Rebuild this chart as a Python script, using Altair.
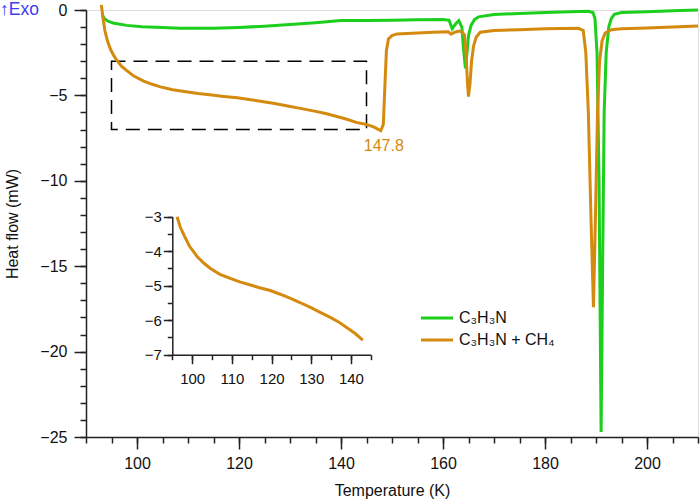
import altair as alt
import pandas as pd

# DSC traces: temperature (K) and heat flow (mW)
t_pure = [93.2, 93.6, 94.3, 95.5, 98.0, 101.0, 105.0, 108.5, 115.0, 120.0, 125.0,
          130.0, 135.0, 140.0, 145.0, 150.0, 155.0, 160.0, 161.2, 161.8, 162.5,
          163.1, 163.7, 164.0, 164.4, 164.7, 165.0, 165.5, 166.2, 167.0, 170.0,
          175.0, 180.0, 185.0, 188.5, 189.4, 189.8, 190.2, 190.6, 191.0, 191.3,
          191.6, 192.0, 192.5, 193.0, 193.6, 195.0, 200.0, 205.0, 210.0]
hf_pure = [-0.30, -0.50, -0.65, -0.78, -0.90, -0.98, -1.03, -1.07, -1.07, -1.02, -0.95,
           -0.85, -0.74, -0.62, -0.62, -0.60, -0.57, -0.55, -0.60, -1.10, -0.80,
           -0.62, -1.00, -2.20, -3.42, -2.50, -1.50, -0.90, -0.55, -0.40, -0.27,
           -0.20, -0.15, -0.10, -0.08, -0.15, -0.50, -2.50, -10.0, -24.7, -15.0,
           -6.0, -2.5, -1.0, -0.5, -0.25, -0.15, -0.10, -0.05, 0.0]

t_mix = [93.0, 93.4, 93.7, 94.2, 94.8, 95.5, 96.2, 97.0, 98.0, 99.3, 101.3, 103.0,
         104.6, 107.0, 109.6, 112.0, 114.7, 117.0, 119.7, 122.0, 124.8, 127.0,
         129.8, 132.0, 134.8, 137.0, 139.0, 141.0, 142.4, 143.0, 145.0, 146.5, 147.8,
         148.3, 148.6, 148.9, 149.3, 150.0, 151.0, 155.0, 158.0, 161.0, 161.6,
         162.3, 163.0, 163.5, 164.2, 164.5, 164.8, 165.0, 165.3, 165.6, 166.0,
         166.5, 167.3, 170.0, 175.0, 180.0, 186.5, 187.5, 188.0, 188.5, 189.0,
         189.5, 189.9, 190.3, 190.7, 191.2, 191.8, 193.0, 195.0, 200.0, 205.0, 210.0]
hf_mix = [0.30, -0.60, -1.20, -1.80, -2.30, -2.70, -3.00, -3.30, -3.55, -3.85, -4.16, -4.35,
          -4.50, -4.67, -4.79, -4.89, -4.98, -5.06, -5.14, -5.24, -5.37, -5.48,
          -5.63, -5.76, -5.92, -6.06, -6.22, -6.38, -6.52, -6.58, -6.70, -6.86, -7.07,
          -6.70, -4.50, -2.40, -1.70, -1.50, -1.40, -1.35, -1.30, -1.27, -1.42,
          -1.30, -1.25, -1.25, -1.45, -2.50, -4.30, -5.07, -4.30, -3.00, -2.10,
          -1.60, -1.30, -1.20, -1.15, -1.10, -1.07, -1.20, -2.50, -6.0, -12.0,
          -17.4, -12.0, -6.0, -3.0, -1.8, -1.35, -1.15, -1.10, -1.05, -1.00, -0.93]

series_names = ["C₃H₃N", "C₃H₃N + CH₄"]
series_colors = ["#1ccf1c", "#d48a0e"]

# region enlarged in the inset
box_t = [95, 145]
box_hf = [-3, -7]
inset_t_range = [96.2, 143.0]

# labelled minimum of the mixture trace
peak_t = [147.8]
peak_hf = [-7.07]

major_t = [100, 120, 140, 160, 180, 200]
minor_t = list(range(90, 211, 5))
major_hf = [0, -5, -10, -15, -20, -25]
minor_hf = list(range(-25, 1))
inset_major_t = [100, 110, 120, 130, 140]
inset_minor_t = list(range(95, 146, 5))
inset_major_hf = [-3, -4, -5, -6, -7]
inset_minor_hf = [-7 + 0.5 * i for i in range(9)]

FONT = "Liberation Sans"
W, H = 612, 427

df = pd.concat([
    pd.DataFrame({"T": t_pure, "HF": hf_pure, "sample": series_names[0]}),
    pd.DataFrame({"T": t_mix, "HF": hf_mix, "sample": series_names[1]}),
], ignore_index=True)
df_mix = df[df["sample"] == series_names[1]]

box_df = pd.DataFrame({"t1": [box_t[0]], "t2": [box_t[1]], "h1": [box_hf[0]], "h2": [box_hf[1]]})
peak_df = pd.DataFrame({"T": peak_t, "HF": peak_hf})

xs = alt.Scale(domain=[90, 210], nice=False, zero=False)
ys = alt.Scale(domain=[-25, 0], nice=False, zero=False)

axis_style = dict(domainColor="#222222", tickColor="#222222", domainWidth=1.5,
                  tickWidth=1.5, grid=False, labelFont=FONT, titleFont=FONT,
                  labelColor="#111111", titleColor="#111111")

x_major = alt.Axis(orient="bottom", values=major_t, tickSize=12, labelFontSize=16,
                   labelPadding=6, title="Temperature (K)", titleFontSize=16,
                   titleFontWeight="normal", titleY=53, titleBaseline="middle", **axis_style)
y_major = alt.Axis(orient="left", values=major_hf, tickSize=12, labelFontSize=16,
                   labelPadding=7, title="Heat flow (mW)", titleFontSize=16,
                   titleFontWeight="normal", titleX=-74, titleY=H / 2, titleAngle=-90,
                   titleBaseline="middle", titleAlign="center", **axis_style)
x_minor = alt.Axis(orient="bottom", values=minor_t, tickSize=6, labels=False, domain=False,
                   title=None, **axis_style)
y_minor = alt.Axis(orient="left", values=minor_hf, tickSize=6, labels=False, domain=False,
                   title=None, **axis_style)

legend = alt.Legend(orient="none", legendX=343, legendY=300, title=None,
                    symbolType="M-3.2,0L3.2,0", symbolSize=100, symbolStrokeWidth=3,
                    labelFont=FONT, labelFontSize=16, labelOffset=14, rowPadding=6,
                    padding=0, labelColor="#111111")

lines = alt.Chart(df).mark_line(strokeWidth=3).encode(
    x=alt.X("T:Q", scale=xs, axis=x_major),
    y=alt.Y("HF:Q", scale=ys, axis=y_major),
    color=alt.Color("sample:N", scale=alt.Scale(domain=series_names, range=series_colors),
                    legend=legend),
)

minor = alt.Chart(df).mark_line(strokeOpacity=0).encode(
    x=alt.X("T:Q", scale=xs, axis=x_minor),
    y=alt.Y("HF:Q", scale=ys, axis=y_minor),
    detail="sample:N",
)

box = alt.Chart(box_df).mark_rect(filled=False, stroke="black", strokeWidth=1.5,
                                  strokeDash=[14, 8]).encode(
    x=alt.X("t1:Q", scale=xs, axis=None),
    x2="t2:Q",
    y=alt.Y("h1:Q", scale=ys, axis=None),
    y2="h2:Q",
)

peak = alt.Chart(peak_df).mark_text(font=FONT, fontSize=16, color=series_colors[1],
                                    dx=3, dy=15, baseline="middle").encode(
    x=alt.X("T:Q", scale=xs, axis=None),
    y=alt.Y("HF:Q", scale=ys, axis=None),
    text=alt.Text("T:Q", format=".1f"),
)

exo = alt.Chart(pd.DataFrame({"label": ["↑Exo"]})).mark_text(
    font=FONT, fontSize=17.5, color="#3c3cf0", align="left", baseline="middle"
).encode(x=alt.value(-86), y=alt.value(0), text="label:N")

# inset: enlarged view of the mixture trace below the glass transition
ixs = alt.Scale(domain=box_t, range=[86.3, 284.8], nice=False, zero=False)
iys = alt.Scale(domain=[-7, -3], range=[344.7, 206.7], nice=False, zero=False)

inset_axis_style = dict(axis_style)
ix_major = alt.Axis(orient="bottom", values=inset_major_t, tickSize=9, labelFontSize=15,
                    labelPadding=8, offset=-82.3, title=None, **inset_axis_style)
iy_major = alt.Axis(orient="left", values=inset_major_hf, tickSize=9, labelFontSize=15,
                    labelPadding=2, offset=-86.3, title=None, **inset_axis_style)
ix_minor = alt.Axis(orient="bottom", values=inset_minor_t, tickSize=5, labels=False,
                    domain=False, offset=-82.3, title=None, **inset_axis_style)
iy_minor = alt.Axis(orient="left", values=inset_minor_hf, tickSize=5, labels=False,
                    domain=False, offset=-86.3, title=None, **inset_axis_style)

inset_line = alt.Chart(df_mix).transform_filter(
    (alt.datum.T >= inset_t_range[0]) & (alt.datum.T <= inset_t_range[1])
).mark_line(strokeWidth=3, color=series_colors[1]).encode(
    x=alt.X("T:Q", scale=ixs, axis=ix_major),
    y=alt.Y("HF:Q", scale=iys, axis=iy_major),
)
inset_minor = alt.Chart(df_mix).transform_filter(
    (alt.datum.T >= inset_t_range[0]) & (alt.datum.T <= inset_t_range[1])
).mark_line(strokeOpacity=0).encode(
    x=alt.X("T:Q", scale=ixs, axis=ix_minor),
    y=alt.Y("HF:Q", scale=iys, axis=iy_minor),
)

chart = alt.layer(
    minor, box, lines, peak, exo, inset_minor, inset_line
).resolve_scale(
    x="independent", y="independent"
).resolve_axis(
    x="independent", y="independent"
).properties(
    width=W, height=H,
    autosize=alt.AutoSizeParams(type="none"),
    padding={"left": 86, "top": 10, "right": 2, "bottom": 66},
).configure_view(stroke=None).configure(background="white")

chart.save("out.html", embed_options={"renderer": "svg", "actions": False})
